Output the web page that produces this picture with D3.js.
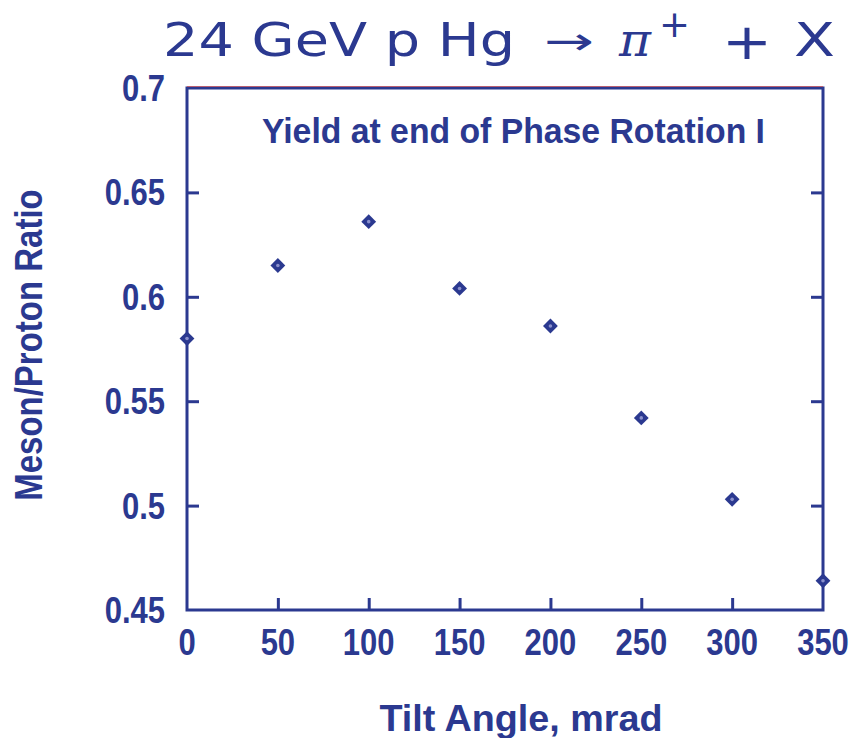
<!DOCTYPE html>
<html><head><meta charset="utf-8">
<script src="https://cdn.jsdelivr.net/npm/d3@7"></script>
<style>
html,body{margin:0;padding:0;background:#fff;}
svg{display:block;}
</style>
</head><body>
<script>
// ---- data ----
const tiltAngles = [0, 50, 100, 150, 200, 250, 300, 350];
const mesonProtonRatio = [0.580, 0.615, 0.636, 0.604, 0.586, 0.542, 0.503, 0.464];
const xTicks = [0, 50, 100, 150, 200, 250, 300, 350];
const yTicks = [0.45, 0.5, 0.55, 0.6, 0.65, 0.7];
const yTickLabels = ["0.45", "0.5", "0.55", "0.6", "0.65", "0.7"];
const innerLabel = "Yield at end of Phase Rotation I";
const xLabel = "Tilt Angle, mrad";
const yLabel = "Meson/Proton Ratio";

const W = 857, H = 738;
const navy = "#2b3990";
const m = {left: 187, right: 823, top: 88, bottom: 610};

const svg = d3.select("body").append("svg").attr("width", W).attr("height", H);

const x = d3.scaleLinear().domain([0, 350]).range([m.left, m.right]);
const y = d3.scaleLinear().domain([0.45, 0.7]).range([m.bottom, m.top]);

const font = "'Liberation Sans', Arial, sans-serif";

// frame
svg.append("rect").attr("x", m.left).attr("y", m.top)
  .attr("width", m.right - m.left).attr("height", m.bottom - m.top)
  .attr("fill", "none").attr("stroke", navy).attr("stroke-width", 3);
svg.append("line").attr("x1", m.left).attr("x2", m.right)
  .attr("y1", m.top - 1.5).attr("y2", m.top - 1.5)
  .attr("stroke", "#d43a3a").attr("stroke-width", 1).attr("opacity", 0.6);

// axes with inward ticks (labels drawn separately)
const tickLen = 12;
const gx = svg.append("g").attr("transform", `translate(0,${m.bottom})`)
  .call(d3.axisBottom(x).tickValues(xTicks).tickSize(-tickLen).tickFormat(""));
gx.select(".domain").remove();
gx.selectAll("line").attr("stroke", navy).attr("stroke-width", 3)
  .filter(d => d === 0 || d === 350).remove();

const gy = svg.append("g").attr("transform", `translate(${m.left},0)`)
  .call(d3.axisLeft(y).tickValues(yTicks).tickSize(-tickLen).tickFormat(""));
gy.select(".domain").remove();
gy.selectAll("line").attr("stroke", navy).attr("stroke-width", 3)
  .filter(d => d === 0.45 || d === 0.7).remove();

const gyr = svg.append("g").attr("transform", `translate(${m.right},0)`)
  .call(d3.axisRight(y).tickValues(yTicks).tickSize(-tickLen).tickFormat(""));
gyr.select(".domain").remove();
gyr.selectAll("line").attr("stroke", navy).attr("stroke-width", 3)
  .filter(d => d === 0.45 || d === 0.7).remove();

// tick labels (slightly tall, condensed look)
const stretch = 1.17;
svg.append("g").selectAll("text").data(xTicks).join("text")
  .attr("transform", d => `translate(${x(d)},655) scale(1,${stretch})`)
  .attr("text-anchor", "middle").attr("font-family", font).attr("font-weight", "bold")
  .attr("font-size", 31).attr("fill", navy).text(d => d3.format("d")(d));

svg.append("g").selectAll("text").data(yTicks).join("text")
  .attr("transform", d => `translate(165,${y(d) + 13}) scale(1,${stretch})`)
  .attr("text-anchor", "end").attr("font-family", font).attr("font-weight", "bold")
  .attr("font-size", 31).attr("fill", navy).text((d, i) => yTickLabels[i]);

// data markers
const sym = d3.symbol().type(d3.symbolDiamond2).size(140);
const pts = svg.append("g");
tiltAngles.forEach((a, i) => {
  const g = pts.append("g").attr("transform", `translate(${x(a)},${y(mesonProtonRatio[i])})`);
  g.append("path").attr("d", sym()).attr("fill", navy);
  g.append("circle").attr("r", 1.8).attr("fill", "#8a90cc");
});

// inner label
svg.append("text").attr("transform", `translate(262,143) scale(1,1.2)`)
  .attr("font-family", font).attr("font-weight", "bold").attr("font-size", 29)
  .attr("fill", navy).attr("textLength", 503).attr("lengthAdjust", "spacingAndGlyphs")
  .text(innerLabel);

// title pieces
const tf = "'DejaVu Sans', sans-serif";
const title = svg.append("g").attr("fill", navy);
title.append("text").attr("x", 163).attr("y", 56).attr("font-family", tf).attr("font-size", 46)
  .attr("textLength", 352).attr("lengthAdjust", "spacingAndGlyphs").text("24 GeV p Hg");
title.append("text").attr("x", 544).attr("y", 54).attr("font-family", tf).attr("font-size", 38)
  .attr("textLength", 50).attr("lengthAdjust", "spacingAndGlyphs").text("\u2192");
title.append("text").attr("x", 619).attr("y", 56).attr("font-family", "'DejaVu Serif', serif")
  .attr("font-style", "italic").attr("font-size", 46)
  .attr("textLength", 32).attr("lengthAdjust", "spacingAndGlyphs").text("\u03c0");
title.append("text").attr("x", 659).attr("y", 37).attr("font-family", tf).attr("font-size", 38)
  .attr("textLength", 31).attr("lengthAdjust", "spacingAndGlyphs").text("+");
title.append("text").attr("x", 722).attr("y", 59).attr("font-family", tf).attr("font-size", 50)
  .attr("textLength", 50).attr("lengthAdjust", "spacingAndGlyphs").text("+");
title.append("text").attr("x", 794).attr("y", 56).attr("font-family", tf).attr("font-size", 46)
  .attr("textLength", 41).attr("lengthAdjust", "spacingAndGlyphs").text("X");

// axis titles
svg.append("text").attr("transform", "translate(521,731) scale(1,1.05)").attr("text-anchor", "middle")
  .attr("font-family", font).attr("font-weight", "bold").attr("font-size", 35)
  .attr("fill", navy).attr("textLength", 283).attr("lengthAdjust", "spacingAndGlyphs").text(xLabel);

svg.append("text").attr("transform", "translate(42,345) rotate(-90) scale(1,1.15)").attr("text-anchor", "middle")
  .attr("font-family", font).attr("font-weight", "bold").attr("font-size", 33)
  .attr("fill", navy).text(yLabel);
</script>
</body></html>
